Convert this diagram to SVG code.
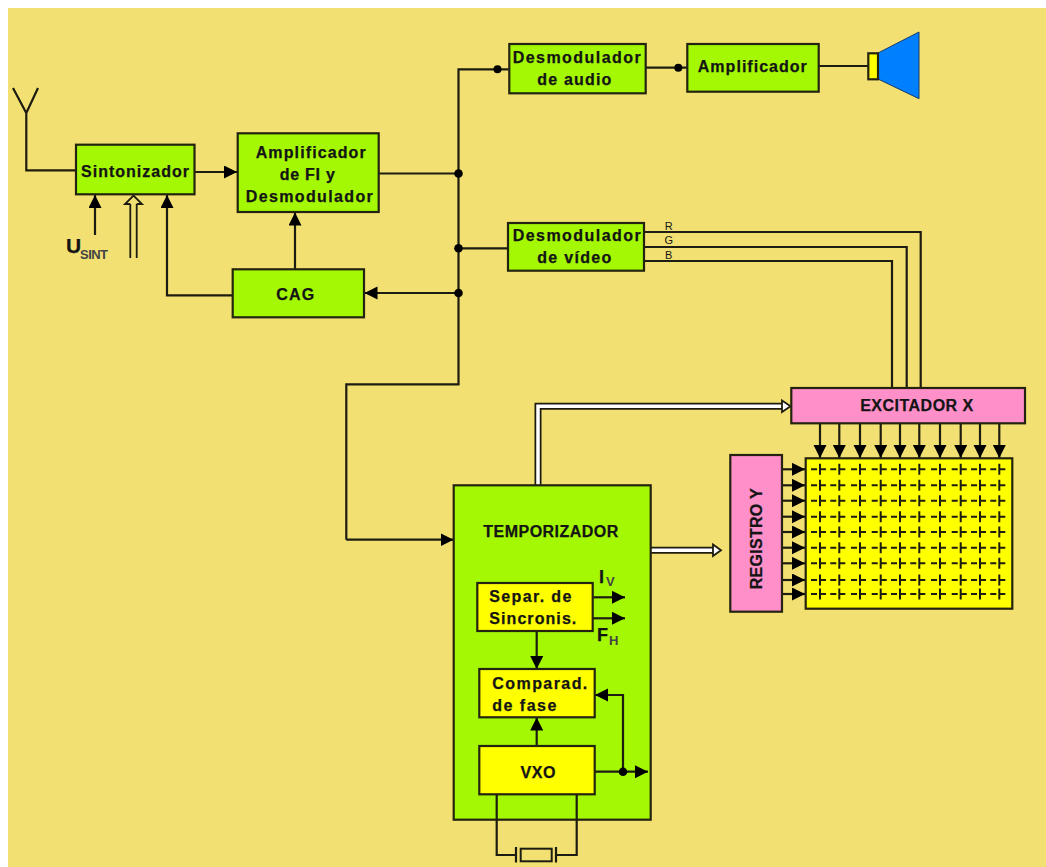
<svg xmlns="http://www.w3.org/2000/svg" xmlns:xlink="http://www.w3.org/1999/xlink" width="1046" height="867" viewBox="0 0 1046 867">
<style>
.l{fill:none;stroke:#1c1c10;stroke-width:2.200}
.a{marker-end:url(#h)}
.box{stroke:#23230f;stroke-width:2.200}
.g{fill:#a4f804}.y{fill:#ffff00}.p{fill:#ff8fc8}
text{font-family:"Liberation Sans",Arial,sans-serif;font-weight:bold;font-size:16px;fill:#141414;stroke:#141414;stroke-width:0.250}
.m{text-anchor:middle}
.s{font-size:11px;font-weight:normal;stroke:none}
.big{font-size:21px}
.sub{font-size:13px;fill:#444;stroke:none}
.d1{fill:none;stroke:#1c1c10;stroke-width:7}
.d2{fill:none;stroke:#fff;stroke-width:3.500}
.ah{fill:#fff;stroke:#1c1c10;stroke-width:1.800}
.dot{fill:#000}
</style>
<defs>
<marker id="h" markerUnits="userSpaceOnUse" markerWidth="14" markerHeight="14" refX="13" refY="6.500" orient="auto"><path d="M0 0L13 6.500L0 13Z" fill="#000"/></marker>
<g id="x"><path d="M-9 0H-3M0 0H6M0 -5.500V5.500" fill="none" stroke="#1c1c10" stroke-width="2"/></g>
</defs>
<rect x="8" y="8" width="1038" height="859" fill="#f2e172"/>

<g id="connectors">
<path class="l" d="M13 88L26.300 113L38 88M26.300 113V170.300H76"/>
<path class="l a" d="M194.500 172H237"/>
<path class="l a" d="M95 235V195"/>
<path class="l a" d="M295 269V212.500"/>
<path class="l a" d="M232.700 295.300H167V195"/>
<path class="l" d="M378.700 173.500H458.500"/>
<path class="l" d="M509 69.300H458.500V384.300H346.300V539.700"/>
<path class="l a" d="M346.300 539.700H453.500"/>
<path class="l" d="M458.500 248.300H508"/>
<path class="l a" d="M458.500 293H364.500"/>
<path class="l" d="M645.700 67.700H687.300"/>
<path class="l" d="M818.700 66H868"/>
<path class="l" d="M644 232H920.700V388M644 247H906.700V388M644 261H892V388"/>
<g class="dots">
<circle class="dot" cx="497.500" cy="69.300" r="4"/>
<circle class="dot" cx="678.300" cy="67.700" r="4"/>
<circle class="dot" cx="458.500" cy="173.500" r="4.300"/>
<circle class="dot" cx="458.500" cy="248.300" r="4.300"/>
<circle class="dot" cx="458.500" cy="293" r="4.300"/>
</g>
<path d="M130.300 258V204M136.700 258V204M130.300 204H125L133.500 195.500L142 204H136.700" fill="none" stroke="#1c1c10" stroke-width="1.800"/>
<path class="d1" d="M538 485V406.300H784"/>
<path class="d2" d="M538 485V406.300H784"/>
<path class="ah" d="M782 400.500L790.500 406.300L782 412Z"/>
<path class="d1" d="M651 550.300H714"/>
<path class="d2" d="M651 550.300H714"/>
<path class="ah" d="M713 544.500L721 550.300L713 556Z"/>
<g id="x-lines">
<path class="l a" d="M820 424V458"/><path class="l a" d="M839.300 424V458"/><path class="l a" d="M860 424V458"/><path class="l a" d="M880.700 424V458"/><path class="l a" d="M900 424V458"/><path class="l a" d="M919.300 424V458"/><path class="l a" d="M940 424V458"/><path class="l a" d="M960.700 424V458"/><path class="l a" d="M980 424V458"/><path class="l a" d="M999.300 424V458"/>
</g>
<g id="y-lines">
<path class="l a" d="M782 469.300H805"/><path class="l a" d="M782 485.300H805"/><path class="l a" d="M782 500.700H805"/><path class="l a" d="M782 516.700H805"/><path class="l a" d="M782 532H805"/><path class="l a" d="M782 547.700H805"/><path class="l a" d="M782 563.300H805"/><path class="l a" d="M782 580H805"/><path class="l a" d="M782 594H805"/>
</g>
</g>

<g id="sintonizador"><rect class="box g" x="76" y="144.700" width="118.500" height="49.600"/><text class="m" x="135" y="177" textLength="108">Sintonizador</text></g>
<g id="amplificador-fi"><rect class="box g" x="237.700" y="133.300" width="141" height="78.700"/><text class="m" x="310.700" y="157.700" textLength="110">Amplificador</text><text class="m" x="307.300" y="180" textLength="55">de FI y</text><text class="m" x="309.300" y="202" textLength="127">Desmodulador</text></g>
<g id="cag"><rect class="box g" x="232.700" y="269.300" width="131.300" height="48"/><text class="m" x="295.300" y="300" textLength="38">CAG</text></g>
<g id="desmod-audio"><rect class="box g" x="509.300" y="44" width="136.400" height="49.300"/><text class="m" x="576.700" y="63.300" textLength="128">Desmodulador</text><text class="m" x="574.300" y="85.300" textLength="74">de audio</text></g>
<g id="amplificador"><rect class="box g" x="687.300" y="44" width="131.400" height="47.700"/><text class="m" x="752.300" y="71.700" textLength="109">Amplificador</text></g>
<g id="altavoz"><path d="M878 53L919 32V98.700L878 79Z" fill="#0080ff" stroke="#1a3a6a" stroke-width="1"/><rect class="box y" x="868.300" y="53.300" width="9.700" height="26"/></g>
<g id="desmod-video"><rect class="box g" x="508" y="223" width="136" height="47.700"/><text class="m" x="576.700" y="241" textLength="128">Desmodulador</text><text class="m" x="574.300" y="263" textLength="74">de vídeo</text></g>
<text class="m s" x="668.700" y="230">R</text><text class="m s" x="668.700" y="244">G</text><text class="m s" x="668.700" y="259">B</text>
<g id="usint"><text class="big" x="66" y="253">U</text><text class="sub" x="80" y="259" textLength="28">SINT</text></g>

<g id="excitador"><rect class="box p" x="791.300" y="388" width="233.700" height="35.300"/><text class="m" x="916.700" y="410.700" textLength="113">EXCITADOR X</text></g>
<g id="registro"><rect class="box p" x="730.300" y="455" width="51.700" height="156.700"/><text class="m" transform="translate(762.300 538.800) rotate(-90)" textLength="101">REGISTRO Y</text></g>
<g id="matriz"><rect class="box y" x="805.700" y="458.300" width="206.600" height="150.400"/>
<g id="cells">
<use href="#x" x="820" y="469.300"/><use href="#x" x="839.300" y="469.300"/><use href="#x" x="860" y="469.300"/><use href="#x" x="880.700" y="469.300"/><use href="#x" x="900" y="469.300"/><use href="#x" x="919.300" y="469.300"/><use href="#x" x="940" y="469.300"/><use href="#x" x="960.700" y="469.300"/><use href="#x" x="980" y="469.300"/><use href="#x" x="999.300" y="469.300"/>
<use href="#x" x="820" y="485.300"/><use href="#x" x="839.300" y="485.300"/><use href="#x" x="860" y="485.300"/><use href="#x" x="880.700" y="485.300"/><use href="#x" x="900" y="485.300"/><use href="#x" x="919.300" y="485.300"/><use href="#x" x="940" y="485.300"/><use href="#x" x="960.700" y="485.300"/><use href="#x" x="980" y="485.300"/><use href="#x" x="999.300" y="485.300"/>
<use href="#x" x="820" y="500.700"/><use href="#x" x="839.300" y="500.700"/><use href="#x" x="860" y="500.700"/><use href="#x" x="880.700" y="500.700"/><use href="#x" x="900" y="500.700"/><use href="#x" x="919.300" y="500.700"/><use href="#x" x="940" y="500.700"/><use href="#x" x="960.700" y="500.700"/><use href="#x" x="980" y="500.700"/><use href="#x" x="999.300" y="500.700"/>
<use href="#x" x="820" y="516.700"/><use href="#x" x="839.300" y="516.700"/><use href="#x" x="860" y="516.700"/><use href="#x" x="880.700" y="516.700"/><use href="#x" x="900" y="516.700"/><use href="#x" x="919.300" y="516.700"/><use href="#x" x="940" y="516.700"/><use href="#x" x="960.700" y="516.700"/><use href="#x" x="980" y="516.700"/><use href="#x" x="999.300" y="516.700"/>
<use href="#x" x="820" y="532"/><use href="#x" x="839.300" y="532"/><use href="#x" x="860" y="532"/><use href="#x" x="880.700" y="532"/><use href="#x" x="900" y="532"/><use href="#x" x="919.300" y="532"/><use href="#x" x="940" y="532"/><use href="#x" x="960.700" y="532"/><use href="#x" x="980" y="532"/><use href="#x" x="999.300" y="532"/>
<use href="#x" x="820" y="547.700"/><use href="#x" x="839.300" y="547.700"/><use href="#x" x="860" y="547.700"/><use href="#x" x="880.700" y="547.700"/><use href="#x" x="900" y="547.700"/><use href="#x" x="919.300" y="547.700"/><use href="#x" x="940" y="547.700"/><use href="#x" x="960.700" y="547.700"/><use href="#x" x="980" y="547.700"/><use href="#x" x="999.300" y="547.700"/>
<use href="#x" x="820" y="563.300"/><use href="#x" x="839.300" y="563.300"/><use href="#x" x="860" y="563.300"/><use href="#x" x="880.700" y="563.300"/><use href="#x" x="900" y="563.300"/><use href="#x" x="919.300" y="563.300"/><use href="#x" x="940" y="563.300"/><use href="#x" x="960.700" y="563.300"/><use href="#x" x="980" y="563.300"/><use href="#x" x="999.300" y="563.300"/>
<use href="#x" x="820" y="580"/><use href="#x" x="839.300" y="580"/><use href="#x" x="860" y="580"/><use href="#x" x="880.700" y="580"/><use href="#x" x="900" y="580"/><use href="#x" x="919.300" y="580"/><use href="#x" x="940" y="580"/><use href="#x" x="960.700" y="580"/><use href="#x" x="980" y="580"/><use href="#x" x="999.300" y="580"/>
<use href="#x" x="820" y="594"/><use href="#x" x="839.300" y="594"/><use href="#x" x="860" y="594"/><use href="#x" x="880.700" y="594"/><use href="#x" x="900" y="594"/><use href="#x" x="919.300" y="594"/><use href="#x" x="940" y="594"/><use href="#x" x="960.700" y="594"/><use href="#x" x="980" y="594"/><use href="#x" x="999.300" y="594"/>
</g></g>

<g id="temporizador"><rect class="box g" x="453.700" y="485.300" width="197" height="334.400"/><text class="m" x="550.800" y="536.700" textLength="135">TEMPORIZADOR</text></g>
<g id="inner-connectors">
<path class="l a" d="M536.700 631V669"/>
<path class="l a" d="M536.700 746V717.500"/>
<path class="l a" d="M593 597.300H625"/>
<path class="l a" d="M593 618.300H625"/>
<path class="l a" d="M595 771.700H648"/>
<path class="l a" d="M623 771.700V695H595"/>
<circle class="dot" cx="623" cy="771.700" r="4.300"/>
<path class="l" d="M496.700 794.300V855H516M576.700 794.300V855H556M516 847V862.500M556 847V862.500"/>
<rect x="520.700" y="848.700" width="31" height="12.600" fill="none" stroke="#1c1c10" stroke-width="2"/>
</g>
<g id="separ"><rect class="box y" x="477.300" y="583" width="115.400" height="48"/><text x="489.300" y="602.300" textLength="82">Separ. de</text><text x="489.300" y="624.300" textLength="87">Sincronis.</text></g>
<g id="comparad"><rect class="box y" x="479.300" y="669" width="115.400" height="48.300"/><text x="492.300" y="688.700" textLength="95">Comparad.</text><text x="492.300" y="711" textLength="64">de fase</text></g>
<g id="vxo"><rect class="box y" x="479.300" y="746" width="115.400" height="48.300"/><text class="m" x="538" y="778.300" textLength="35">VXO</text></g>
<g id="iv"><text class="big" x="599" y="582.700" style="font-size:18px">I</text><text class="sub" x="606" y="586">V</text></g>
<g id="fh"><text class="big" x="597" y="641" style="font-size:18px">F</text><text class="sub" x="609" y="645">H</text></g>
</svg>
